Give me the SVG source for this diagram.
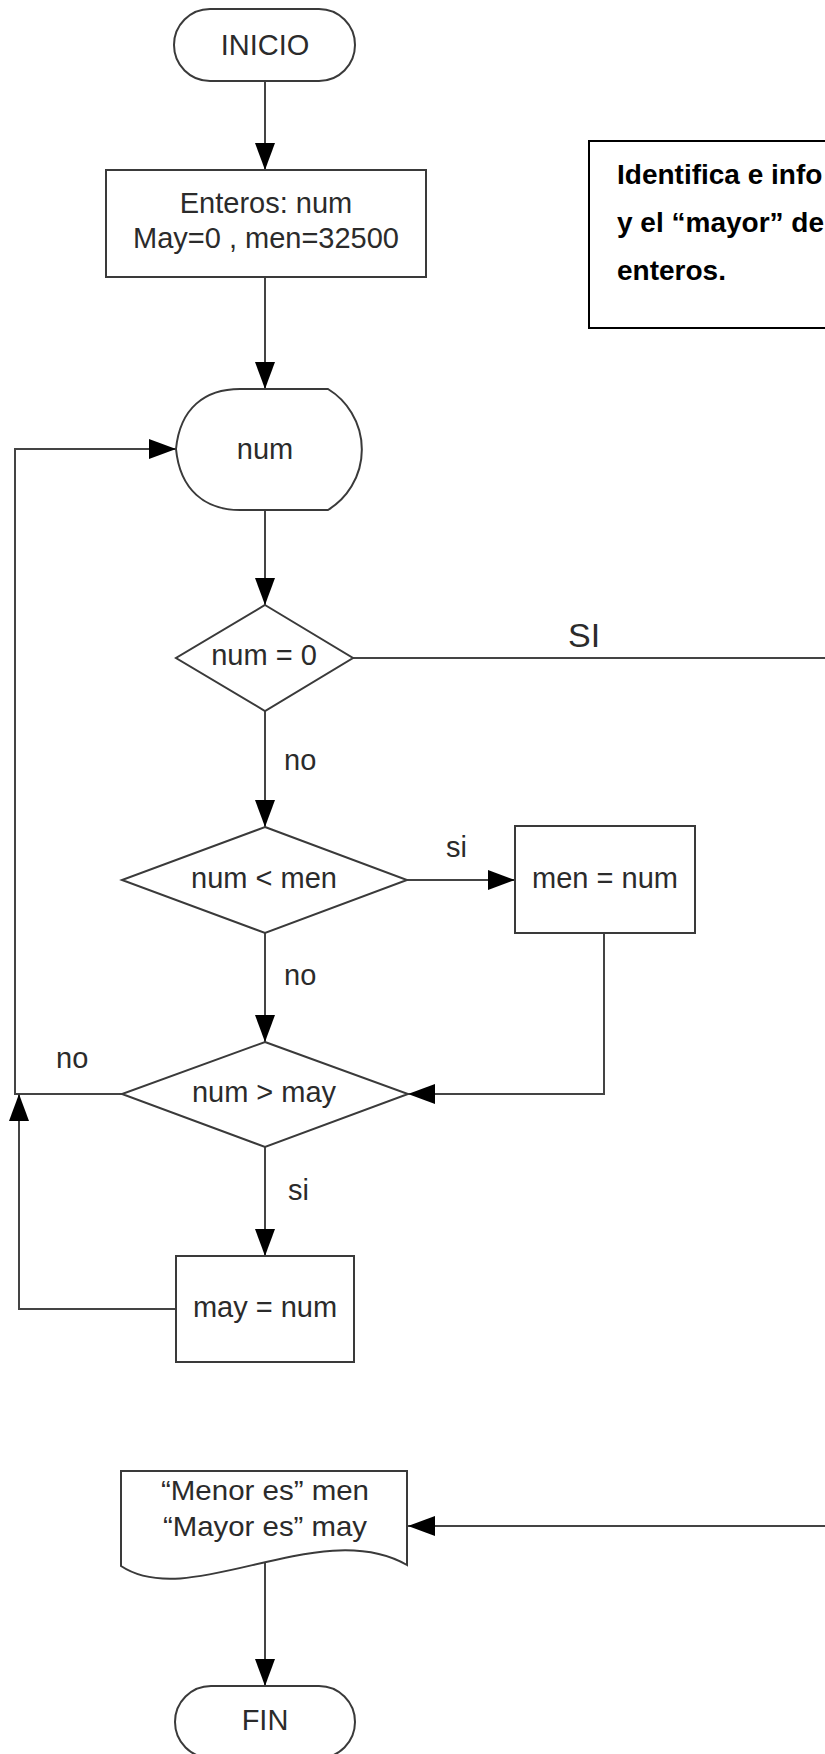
<svg xmlns="http://www.w3.org/2000/svg" width="825" height="1754" viewBox="0 0 825 1754">
<style>
.shape{fill:#fff;stroke:#3a3a3a;stroke-width:2}
.conn{fill:none;stroke:#444;stroke-width:2}
.t{font-family:"Liberation Sans",Arial,sans-serif;font-size:29px;fill:#2b2b2b}
.m{text-anchor:middle}
.note{font-family:"Liberation Sans",Arial,sans-serif;font-size:28px;font-weight:bold;fill:#000}
.doc{font-size:28px}
</style>
<defs>
<marker id="ah" viewBox="0 0 27 20" refX="27" refY="10" markerWidth="27" markerHeight="20" markerUnits="userSpaceOnUse" orient="auto">
<path d="M0,0 L27,10 L0,20 Z" fill="#000"/>
</marker>
</defs>
<rect width="825" height="1754" fill="#fff"/>

<g id="nota">
<rect x="589" y="141" width="250" height="187" fill="#fff" stroke="#000" stroke-width="2"/>
<text class="note" x="617" y="184">Identifica e info</text>
<text class="note" x="617" y="232">y el “mayor” de</text>
<text class="note" x="617" y="280">enteros.</text>
</g>

<g id="connectors">
<line class="conn" x1="265" y1="81" x2="265" y2="170" marker-end="url(#ah)"/>
<line class="conn" x1="265" y1="277" x2="265" y2="389" marker-end="url(#ah)"/>
<polyline class="conn" points="122,1094 15,1094 15,449 176,449" marker-end="url(#ah)"/>
<line class="conn" x1="265" y1="510" x2="265" y2="605" marker-end="url(#ah)"/>
<line class="conn" x1="353" y1="658" x2="825" y2="658"/>
<line class="conn" x1="265" y1="711" x2="265" y2="827" marker-end="url(#ah)"/>
<line class="conn" x1="407" y1="880" x2="515" y2="880" marker-end="url(#ah)"/>
<line class="conn" x1="265" y1="933" x2="265" y2="1042" marker-end="url(#ah)"/>
<polyline class="conn" points="604,933 604,1094 408,1094" marker-end="url(#ah)"/>
<line class="conn" x1="265" y1="1147" x2="265" y2="1256" marker-end="url(#ah)"/>
<polyline class="conn" points="176,1309 19,1309 19,1094" marker-end="url(#ah)"/>
<line class="conn" x1="825" y1="1526" x2="408" y2="1526" marker-end="url(#ah)"/>
<line class="conn" x1="265" y1="1563" x2="265" y2="1686" marker-end="url(#ah)"/>
<text class="t" x="568" y="647" style="font-size:34px">SI</text>
<text class="t" x="284" y="770">no</text>
<text class="t" x="446" y="857">si</text>
<text class="t" x="284" y="985">no</text>
<text class="t" x="56" y="1068">no</text>
<text class="t" x="288" y="1200">si</text>
</g>

<g id="inicio">
<rect class="shape" x="174" y="9" width="181" height="72" rx="36" ry="36"/>
<text class="t m" x="265" y="55">INICIO</text>
</g>

<g id="declaracion">
<rect class="shape" x="106" y="170" width="320" height="107"/>
<text class="t m" x="266" y="213">Enteros: num</text>
<text class="t m" x="266" y="248">May=0 , men=32500</text>
</g>

<g id="leer-num">
<path class="shape" d="M240,389 L328,389 A71,71 0 0 1 328,510 L240,510 C205,510 180,490 176,449 C180,408 205,389 240,389 Z"/>
<text class="t m" x="265" y="459">num</text>
</g>

<g id="dec-cero">
<polygon class="shape" points="265,605 353,658 265,711 176,658"/>
<text class="t m" x="264" y="665">num = 0</text>
</g>

<g id="dec-menor">
<polygon class="shape" points="265,827 407,880 265,933 122,880"/>
<text class="t m" x="264" y="888">num &lt; men</text>
</g>

<g id="asig-men">
<rect class="shape" x="515" y="826" width="180" height="107"/>
<text class="t m" x="605" y="888">men = num</text>
</g>

<g id="dec-mayor">
<polygon class="shape" points="265,1042 408,1094 265,1147 122,1094"/>
<text class="t m" x="264" y="1102">num &gt; may</text>
</g>

<g id="asig-may">
<rect class="shape" x="176" y="1256" width="178" height="106"/>
<text class="t m" x="265" y="1317">may = num</text>
</g>

<g id="salida">
<path class="shape" d="M121,1566 L121,1471 L407,1471 L407,1565 C320,1515 190,1612 121,1566 Z"/>
<text class="t m doc" x="265" y="1500" textLength="208" lengthAdjust="spacingAndGlyphs">“Menor es” men</text>
<text class="t m doc" x="265" y="1536" textLength="204" lengthAdjust="spacingAndGlyphs">“Mayor es” may</text>
</g>

<g id="fin">
<rect class="shape" x="175" y="1686" width="180" height="72" rx="36" ry="36"/>
<text class="t m" x="265" y="1730">FIN</text>
</g>
</svg>
